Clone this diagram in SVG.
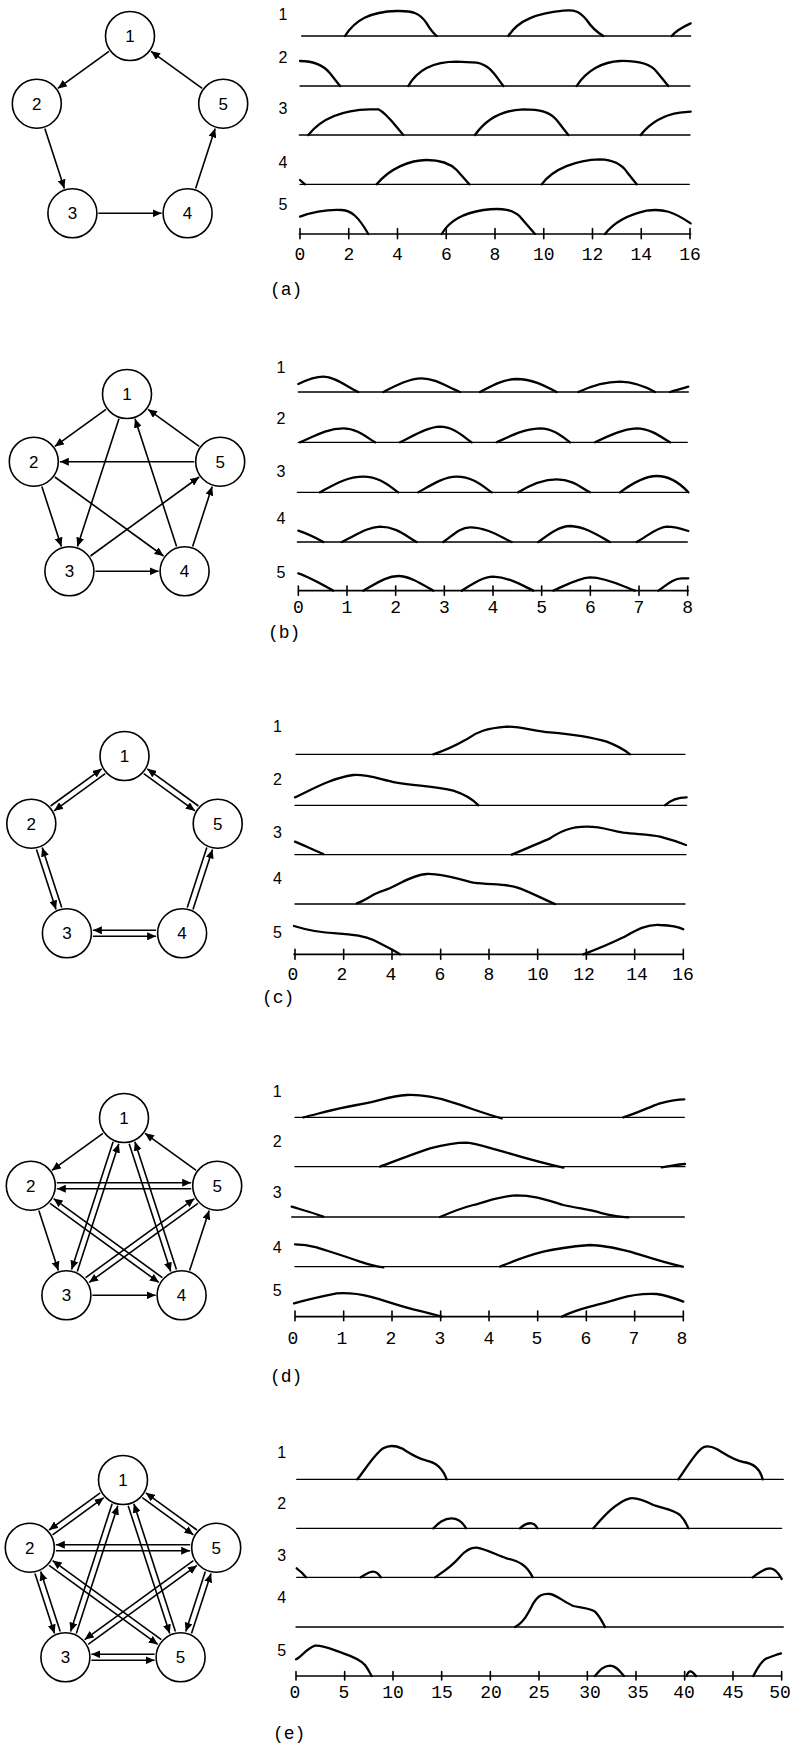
<svg xmlns="http://www.w3.org/2000/svg" width="796" height="1746" viewBox="0 0 796 1746">
<defs>
<marker id="ah" viewBox="0 0 9 8" refX="9" refY="4" markerWidth="9" markerHeight="8" markerUnits="userSpaceOnUse" orient="auto"><path d="M0,0 L9,4 L0,8 z" fill="#000"/></marker>
</defs>
<style>
.node circle{fill:#fff;stroke:#000;stroke-width:1.6}
.node text{font-family:"Liberation Sans",Arial,sans-serif;font-size:17px;text-anchor:middle;fill:#000}
.edges path{stroke:#000;stroke-width:1.6;fill:none;marker-end:url(#ah)}
.edges path.plain{marker-end:none}
.wave path{fill:none;stroke:#000;stroke-width:2.3;vector-effect:non-scaling-stroke;stroke-linecap:round;stroke-linejoin:round}
.wave path.base{stroke-width:1.3}
.wave path.axis{stroke-width:1.6}
.rl{font-family:"Liberation Sans",Arial,sans-serif;font-size:16px;text-anchor:middle;fill:#000}
.tk{font-family:"Liberation Mono","Courier New",monospace;font-size:18px;text-anchor:middle;fill:#000}
.cap{font-family:"Liberation Mono","Courier New",monospace;font-size:18px;fill:#000}
</style>
<rect width="796" height="1746" fill="#fff"/>

<!-- ===== Panel (a) graph ===== -->
<g id="graph-a" transform="translate(130,134)">
<g id="a-edges" class="edges">
<path d="M-21.03,-82.72 L-72.17,-45.56"/>
<path d="M-85.17,-5.55 L-65.63,54.55"/>
<path d="M-31.6,79.28 L31.6,79.28"/>
<path d="M65.63,54.55 L85.17,-5.55"/>
<path d="M72.17,-45.56 L21.03,-82.72"/>
</g>
<g id="a-n1" class="node" transform="translate(0,-98)"><circle r="24.5"/><text y="6">1</text></g>
<g id="a-n2" class="node" transform="translate(-93.2,-30.3)"><circle r="24.5"/><text y="6">2</text></g>
<g id="a-n3" class="node" transform="translate(-57.6,79.3)"><circle r="24.5"/><text y="6">3</text></g>
<g id="a-n4" class="node" transform="translate(57.6,79.3)"><circle r="24.5"/><text y="6">4</text></g>
<g id="a-n5" class="node" transform="translate(93.2,-30.3)"><circle r="24.5"/><text y="6">5</text></g>
</g>

<!-- ===== Panel (b) graph ===== -->
<g id="graph-b" transform="translate(127,492)">
<g id="b-edges" class="edges">
<path d="M-21.03,-82.72 L-72.17,-45.56"/>
<path d="M-85.17,-5.55 L-65.63,54.55"/>
<path d="M-31.6,79.28 L31.6,79.28"/>
<path d="M65.63,54.55 L85.17,-5.55"/>
<path d="M72.17,-45.56 L21.03,-82.72"/>
<path d="M-8.03,-73.27 L-49.57,54.55"/>
<path d="M-72.17,-15 L36.57,64"/>
<path d="M-36.57,64 L72.17,-15"/>
<path d="M49.57,54.55 L8.03,-73.27"/>
<path d="M67.2,-30.28 L-67.2,-30.28"/>
</g>
<g id="b-n1" class="node" transform="translate(0,-98)"><circle r="24.5"/><text y="6">1</text></g>
<g id="b-n2" class="node" transform="translate(-93.2,-30.3)"><circle r="24.5"/><text y="6">2</text></g>
<g id="b-n3" class="node" transform="translate(-57.6,79.3)"><circle r="24.5"/><text y="6">3</text></g>
<g id="b-n4" class="node" transform="translate(57.6,79.3)"><circle r="24.5"/><text y="6">4</text></g>
<g id="b-n5" class="node" transform="translate(93.2,-30.3)"><circle r="24.5"/><text y="6">5</text></g>
</g>

<!-- ===== Panel (c) graph ===== -->
<g id="graph-c" transform="translate(124.5,854)">
<g id="c-edges" class="edges">
<path d="M-73.93,-47.99 L-22.79,-85.15"/>
<path d="M-19.27,-80.29 L-70.41,-43.13"/>
<path d="M73.93,-47.99 L22.79,-85.15"/>
<path d="M19.27,-80.29 L70.41,-43.13"/>
<path d="M-88.02,-4.62 L-68.48,55.48"/>
<path d="M-62.78,53.62 L-82.32,-6.48"/>
<path d="M-31.6,82.28 L31.6,82.28"/>
<path d="M31.6,76.28 L-31.6,76.28"/>
<path d="M68.48,55.48 L88.02,-4.62"/>
<path class="plain" d="M62.78,53.62 L82.32,-6.48"/>
</g>
<g id="c-n1" class="node" transform="translate(0,-98)"><circle r="24.5"/><text y="6">1</text></g>
<g id="c-n2" class="node" transform="translate(-93.2,-30.3)"><circle r="24.5"/><text y="6">2</text></g>
<g id="c-n3" class="node" transform="translate(-57.6,79.3)"><circle r="24.5"/><text y="6">3</text></g>
<g id="c-n4" class="node" transform="translate(57.6,79.3)"><circle r="24.5"/><text y="6">4</text></g>
<g id="c-n5" class="node" transform="translate(93.2,-30.3)"><circle r="24.5"/><text y="6">5</text></g>
</g>

<!-- ===== Panel (d) graph ===== -->
<g id="graph-d" transform="translate(124,1216)">
<g id="d-edges" class="edges">
<path d="M-21.03,-82.72 L-72.17,-45.56"/>
<path d="M-85.17,-5.55 L-65.63,54.55"/>
<path d="M-31.6,79.28 L31.6,79.28"/>
<path d="M65.63,54.55 L85.17,-5.55"/>
<path d="M72.17,-45.56 L21.03,-82.72"/>
<path d="M-10.88,-74.2 L-52.42,53.62"/>
<path d="M-46.72,55.48 L-5.18,-72.34"/>
<path d="M5.18,-72.34 L46.72,55.48"/>
<path d="M52.42,53.62 L10.88,-74.2"/>
<path d="M-67.2,-33.28 L67.2,-33.28"/>
<path d="M67.2,-27.28 L-67.2,-27.28"/>
<path d="M-73.93,-12.57 L34.81,66.43"/>
<path d="M38.33,61.57 L-70.41,-17.43"/>
<path d="M-38.33,61.57 L70.41,-17.43"/>
<path d="M73.93,-12.57 L-34.81,66.43"/>
</g>
<g id="d-n1" class="node" transform="translate(0,-98)"><circle r="24.5"/><text y="6">1</text></g>
<g id="d-n2" class="node" transform="translate(-93.2,-30.3)"><circle r="24.5"/><text y="6">2</text></g>
<g id="d-n3" class="node" transform="translate(-57.6,79.3)"><circle r="24.5"/><text y="6">3</text></g>
<g id="d-n4" class="node" transform="translate(57.6,79.3)"><circle r="24.5"/><text y="6">4</text></g>
<g id="d-n5" class="node" transform="translate(93.2,-30.3)"><circle r="24.5"/><text y="6">5</text></g>
</g>

<!-- ===== Panel (e) graph ===== -->
<g id="graph-e" transform="translate(123,1578)">
<g id="e-edges" class="edges">
<path d="M-70.41,-43.13 L-19.27,-80.29"/>
<path d="M-22.79,-85.15 L-73.93,-47.99"/>
<path d="M73.93,-47.99 L22.79,-85.15"/>
<path d="M19.27,-80.29 L70.41,-43.13"/>
<path d="M-10.88,-74.2 L-52.42,53.62"/>
<path d="M-46.72,55.48 L-5.18,-72.34"/>
<path d="M5.18,-72.34 L46.72,55.48"/>
<path d="M52.42,53.62 L10.88,-74.2"/>
<path d="M67.2,-33.28 L-67.2,-33.28"/>
<path d="M-67.2,-27.28 L67.2,-27.28"/>
<path d="M-88.02,-4.62 L-68.48,55.48"/>
<path d="M-62.78,53.62 L-82.32,-6.48"/>
<path d="M-73.93,-12.57 L34.81,66.43"/>
<path d="M38.33,61.57 L-70.41,-17.43"/>
<path d="M-34.81,66.43 L73.93,-12.57"/>
<path d="M70.41,-17.43 L-38.33,61.57"/>
<path d="M-31.6,82.28 L31.6,82.28"/>
<path d="M31.6,76.28 L-31.6,76.28"/>
<path d="M68.48,55.48 L88.02,-4.62"/>
<path d="M82.32,-6.48 L62.78,53.62"/>
</g>
<g id="e-n1" class="node" transform="translate(0,-98)"><circle r="24.5"/><text y="6">1</text></g>
<g id="e-n2" class="node" transform="translate(-93.2,-30.3)"><circle r="24.5"/><text y="6">2</text></g>
<g id="e-n3" class="node" transform="translate(-57.6,79.3)"><circle r="24.5"/><text y="6">3</text></g>
<g id="e-n4" class="node" transform="translate(57.6,79.3)"><circle r="24.5"/><text y="6">5</text></g>
<g id="e-n5" class="node" transform="translate(93.2,-30.3)"><circle r="24.5"/><text y="6">5</text></g>
</g>

<!-- ===== Waveforms (a) ===== -->
<g id="wave-a" class="wave" transform="translate(270,0) scale(0.333333)">
<path class="base" d="M95,108 L1262,108"/>
<path d="M225,108 C255,60 300,35 380,33 C430,32 450,40 470,70 Q485,95 500,108"/>
<path d="M715,108 C745,60 800,40 880,32 C915,28 930,35 950,60 Q970,90 1000,108"/>
<path d="M1205,108 C1220,90 1240,80 1262,70"/>
<path class="base" d="M90,258 L1260,258"/>
<path d="M90,183 C130,183 160,195 180,220 L210,258"/>
<path d="M415,258 C445,205 500,185 560,185 L620,188 C660,195 675,225 700,258"/>
<path d="M920,258 C950,210 1000,185 1050,183 C1100,182 1140,190 1160,215 L1195,258"/>
<path class="base" d="M88,405 L1260,405"/>
<path d="M115,405 C150,360 210,330 300,328 L325,328 C350,340 370,370 400,405"/>
<path d="M615,405 C650,355 700,330 760,328 C810,328 840,335 860,360 L895,405"/>
<path d="M1112,405 C1140,370 1180,345 1230,338 L1262,335"/>
<path class="base" d="M90,553 L1258,553"/>
<path d="M90,540 L105,553"/>
<path d="M320,553 C360,505 420,480 470,480 C520,480 545,495 560,510 L598,553"/>
<path d="M815,553 C850,505 920,480 990,478 C1040,480 1060,500 1070,515 L1100,553"/>
<path class="axis" d="M88,702 L1262,702 M90,686 V716 M236.25,686 V716 M382.5,686 V716 M528.75,686 V716 M675,686 V716 M821.25,686 V716 M967.5,686 V716 M1113.75,686 V716 M1260,686 V716"/>
<path d="M90,650 C130,635 170,628 215,630 C245,632 265,650 295,702"/>
<path d="M515,702 C540,660 580,640 640,630 C700,622 730,630 750,650 L795,702"/>
<path d="M1005,702 C1030,670 1070,645 1130,632 C1180,625 1210,635 1262,670"/>
</g>
<g id="labels-a">
<text class="rl" x="283" y="20">1</text>
<text class="rl" x="283" y="63">2</text>
<text class="rl" x="283" y="114">3</text>
<text class="rl" x="283" y="168">4</text>
<text class="rl" x="283" y="210">5</text>
<text class="tk" x="300" y="260">0</text>
<text class="tk" x="348.8" y="260">2</text>
<text class="tk" x="397.5" y="260">4</text>
<text class="tk" x="446.3" y="260">6</text>
<text class="tk" x="495" y="260">8</text>
<text class="tk" x="543.8" y="260">10</text>
<text class="tk" x="592.5" y="260">12</text>
<text class="tk" x="641.3" y="260">14</text>
<text class="tk" x="690" y="260">16</text>
<text class="cap" x="270" y="295">(a)</text>
</g>

<!-- ===== Waveforms (b) ===== -->
<g id="wave-b" class="wave" transform="translate(270,330) scale(0.333333)">
<path class="base" d="M85,186 L1255,186"/>
<path d="M85,162 C110,150 135,140 160,140 C195,140 230,170 265,186 M340,186 C380,165 420,145 455,145 C495,145 530,170 570,186 M630,186 C670,165 700,148 740,147 C785,147 820,165 860,186 M925,186 C960,170 1000,155 1050,155 C1090,156 1130,172 1155,186 M1200,186 C1220,180 1240,175 1255,170"/>
<path class="base" d="M85,337 L1252,337"/>
<path d="M90,337 C130,320 170,295 220,295 C260,295 290,322 315,337 M390,337 C430,318 470,292 510,290 C550,290 580,320 605,337 M680,337 C720,318 760,297 810,295 C850,295 880,322 900,337 M975,337 C1020,315 1060,297 1100,295 C1140,295 1175,322 1200,337"/>
<path class="base" d="M82,487 L1255,487"/>
<path d="M150,487 C190,465 230,440 280,440 C330,440 360,470 385,487 M445,487 C480,467 520,440 560,440 C610,440 640,470 665,487 M745,487 C780,465 820,448 860,448 C910,448 935,475 960,487 M1050,487 C1080,465 1120,438 1160,438 C1200,438 1235,465 1255,487"/>
<path class="base" d="M82,636 L1252,636"/>
<path d="M85,602 C110,610 140,625 160,636 M215,636 C260,615 290,592 330,590 C380,590 410,620 440,636 M520,636 C550,615 570,592 600,592 C650,592 690,620 725,636 M805,636 C840,610 870,588 900,588 C950,590 990,620 1020,636 M1100,636 C1130,620 1160,592 1190,590 C1215,590 1240,598 1255,603"/>
<path class="axis" d="M85,782 L1255,782 M85,768 V796 M231,768 V796 M377,768 V796 M523,768 V796 M669,768 V796 M815,768 V796 M961,768 V796 M1107,768 V796 M1253,768 V796"/>
<path d="M85,730 C120,742 160,765 190,782 M280,782 C320,760 350,738 385,738 C420,738 460,765 490,782 M575,782 C610,760 640,740 670,740 C720,742 760,768 790,782 M850,782 C880,770 920,745 960,742 C1010,742 1060,770 1095,782 M1165,782 C1190,765 1210,745 1235,745 L1255,745"/>
</g>
<g id="labels-b">
<text class="rl" x="281" y="373">1</text>
<text class="rl" x="281" y="424">2</text>
<text class="rl" x="281" y="477">3</text>
<text class="rl" x="281" y="524">4</text>
<text class="rl" x="281" y="578">5</text>
<text class="tk" x="298.3" y="613">0</text>
<text class="tk" x="347" y="613">1</text>
<text class="tk" x="395.7" y="613">2</text>
<text class="tk" x="444.3" y="613">3</text>
<text class="tk" x="493" y="613">4</text>
<text class="tk" x="541.7" y="613">5</text>
<text class="tk" x="590.3" y="613">6</text>
<text class="tk" x="639" y="613">7</text>
<text class="tk" x="687.7" y="613">8</text>
<text class="cap" x="268" y="638">(b)</text>
</g>

<!-- ===== Waveforms (c) ===== -->
<g id="wave-c" class="wave" transform="translate(270,700) scale(0.333333)">
<path class="base" d="M78,163 L1245,163"/>
<path d="M490,163 C530,150 560,135 590,118 C620,95 650,85 710,80 C760,80 790,93 840,97 C900,102 960,110 1010,125 C1050,140 1070,155 1080,163"/>
<path class="base" d="M75,316 L1250,316"/>
<path d="M75,292 C120,272 180,235 250,225 C290,222 320,235 380,248 C440,258 500,258 550,272 C590,285 610,300 625,316"/>
<path d="M1185,316 C1200,302 1225,292 1250,292"/>
<path class="base" d="M75,464 L1248,464"/>
<path d="M75,425 C100,435 130,450 160,462"/>
<path d="M725,464 C760,450 800,432 840,415 C870,395 900,380 950,380 C1000,380 1020,392 1060,398 C1100,403 1140,403 1170,410 C1200,418 1230,428 1248,435"/>
<path class="base" d="M75,612 L1245,612"/>
<path d="M260,610 C290,600 310,580 340,572 C380,560 420,525 470,522 C510,520 560,535 610,548 C660,555 700,550 740,562 C780,575 820,598 855,612"/>
<path class="axis" d="M72,763 L1240,763 M75,748 V778 M221,748 V778 M366,748 V778 M512,748 V778 M657,748 V778 M803,748 V778 M949,748 V778 M1094,748 V778 M1240,748 V778"/>
<path d="M72,678 C110,690 150,698 200,700 C240,702 280,706 310,720 C340,735 370,750 390,763"/>
<path d="M940,763 C980,748 1020,732 1060,712 C1100,690 1130,672 1170,675 C1200,676 1225,680 1240,688"/>
</g>
<g id="labels-c">
<text class="rl" x="277.5" y="732">1</text>
<text class="rl" x="277.5" y="785">2</text>
<text class="rl" x="277.5" y="838">3</text>
<text class="rl" x="277.5" y="884">4</text>
<text class="rl" x="277.5" y="938">5</text>
<text class="tk" x="293" y="980">0</text>
<text class="tk" x="342" y="980">2</text>
<text class="tk" x="391" y="980">4</text>
<text class="tk" x="440" y="980">6</text>
<text class="tk" x="489" y="980">8</text>
<text class="tk" x="538" y="980">10</text>
<text class="tk" x="584" y="980">12</text>
<text class="tk" x="637" y="980">14</text>
<text class="tk" x="683" y="980">16</text>
<text class="cap" x="262" y="1003">(c)</text>
</g>

<!-- ===== Waveforms (d) ===== -->
<g id="wave-d" class="wave" transform="translate(270,1070) scale(0.333333)">
<path class="base" d="M75,142 L1243,142"/>
<path d="M100,142 C150,130 200,115 260,105 C320,95 360,78 410,75 C460,73 500,82 540,95 C590,110 640,130 695,145"/>
<path d="M1060,142 C1100,130 1140,110 1170,100 C1200,92 1220,88 1243,88"/>
<path class="base" d="M75,290 L1245,290"/>
<path d="M330,290 C370,275 420,255 480,235 C530,222 560,218 590,218 C620,220 650,232 700,245 C750,260 820,280 880,293"/>
<path d="M1175,292 C1200,290 1220,283 1245,282"/>
<path class="base" d="M65,441 L1243,441"/>
<path d="M65,410 C90,418 120,425 160,440"/>
<path d="M510,441 C540,428 570,415 610,405 C650,395 690,378 740,376 C790,376 830,390 880,405 C920,415 960,418 990,428 C1020,435 1040,440 1075,442"/>
<path class="base" d="M75,590 L1240,590"/>
<path d="M75,523 C100,523 125,528 140,532 C180,545 230,560 270,575 C300,585 320,590 340,592"/>
<path d="M690,590 C720,578 760,560 820,545 C860,535 900,530 960,525 C1000,525 1040,535 1080,545 C1130,560 1180,578 1238,590"/>
<path class="axis" d="M75,740 L1240,740 M75,723 V752 M221,723 V752 M366,723 V752 M512,723 V752 M657,723 V752 M803,723 V752 M949,723 V752 M1094,723 V752 M1240,723 V752"/>
<path d="M72,700 C100,692 150,680 200,670 C240,668 270,672 300,680 C340,690 380,705 430,718 C460,725 490,732 515,740"/>
<path d="M875,740 C900,728 930,718 960,710 C990,702 1020,695 1050,685 C1080,676 1120,670 1160,672 C1190,676 1215,685 1240,695"/>
</g>
<g id="labels-d">
<text class="rl" x="277.3" y="1097">1</text>
<text class="rl" x="277.3" y="1147">2</text>
<text class="rl" x="277.3" y="1198">3</text>
<text class="rl" x="277.3" y="1253">4</text>
<text class="rl" x="277.3" y="1296">5</text>
<text class="tk" x="293" y="1344">0</text>
<text class="tk" x="342" y="1344">1</text>
<text class="tk" x="391" y="1344">2</text>
<text class="tk" x="440" y="1344">3</text>
<text class="tk" x="489" y="1344">4</text>
<text class="tk" x="537" y="1344">5</text>
<text class="tk" x="586" y="1344">6</text>
<text class="tk" x="634" y="1344">7</text>
<text class="tk" x="682" y="1344">8</text>
<text class="cap" x="270" y="1382">(d)</text>
</g>

<!-- ===== Waveforms (e) ===== -->
<g id="wave-e" class="wave" transform="translate(270,1420) scale(0.333333)">
<path class="base" d="M80,178 L1540,178"/>
<path d="M262,178 C285,150 315,100 340,85 C355,76 375,76 395,85 C420,100 440,115 470,122 C500,128 518,145 530,178"/>
<path d="M1225,178 C1245,150 1275,100 1295,85 C1305,77 1320,77 1340,87 C1370,105 1390,120 1420,126 C1450,130 1470,145 1478,178"/>
<path class="base" d="M80,325 L1535,325"/>
<path d="M490,325 C505,310 520,295 545,295 C565,295 580,310 588,325"/>
<path d="M750,325 C760,315 770,308 785,310 C795,312 800,320 802,325"/>
<path d="M970,325 C1000,290 1040,245 1080,235 C1100,232 1120,240 1150,255 C1180,265 1210,268 1230,285 C1245,300 1250,312 1255,325"/>
<path class="base" d="M80,472 L1535,472"/>
<path d="M80,445 C90,452 100,462 108,472"/>
<path d="M272,472 C285,465 295,455 310,455 C320,455 328,465 333,472"/>
<path d="M495,472 C520,455 545,440 570,410 C590,388 605,382 620,383 C650,388 680,405 710,415 C750,425 770,435 788,472"/>
<path d="M1448,472 C1465,460 1480,445 1500,445 C1515,445 1525,458 1535,477"/>
<path class="base" d="M78,621 L1540,621"/>
<path d="M735,621 C760,608 775,580 790,550 C805,525 820,520 840,522 C860,525 880,545 910,558 C940,565 960,565 975,575 C990,590 998,608 1005,621"/>
<path class="axis" d="M78,768 L1535,768 M78,755 V780 M224,755 V780 M369,755 V780 M515,755 V780 M661,755 V780 M807,755 V780 M952,755 V780 M1098,755 V780 M1244,755 V780 M1389,755 V780 M1535,755 V780"/>
<path d="M78,718 C95,710 110,685 135,677 C160,675 190,690 220,700 C250,710 270,718 285,735 C295,748 300,760 305,768"/>
<path d="M975,768 C990,750 1000,738 1020,737 C1040,738 1050,755 1062,768"/>
<path d="M1250,768 C1253,757 1258,752 1265,755 C1270,758 1275,764 1278,768"/>
<path d="M1450,768 C1460,750 1470,725 1490,715 C1505,710 1520,703 1533,700"/>
</g>
<g id="labels-e">
<text class="rl" x="281.7" y="1458">1</text>
<text class="rl" x="281.7" y="1509">2</text>
<text class="rl" x="281.7" y="1561">3</text>
<text class="rl" x="281.7" y="1603">4</text>
<text class="rl" x="281.7" y="1656">5</text>
<text class="tk" x="295" y="1698">0</text>
<text class="tk" x="344" y="1698">5</text>
<text class="tk" x="393" y="1698">10</text>
<text class="tk" x="442" y="1698">15</text>
<text class="tk" x="491" y="1698">20</text>
<text class="tk" x="539" y="1698">25</text>
<text class="tk" x="590" y="1698">30</text>
<text class="tk" x="638" y="1698">35</text>
<text class="tk" x="684" y="1698">40</text>
<text class="tk" x="733" y="1698">45</text>
<text class="tk" x="780" y="1698">50</text>
<text class="cap" x="273" y="1739">(e)</text>
</g>
</svg>
